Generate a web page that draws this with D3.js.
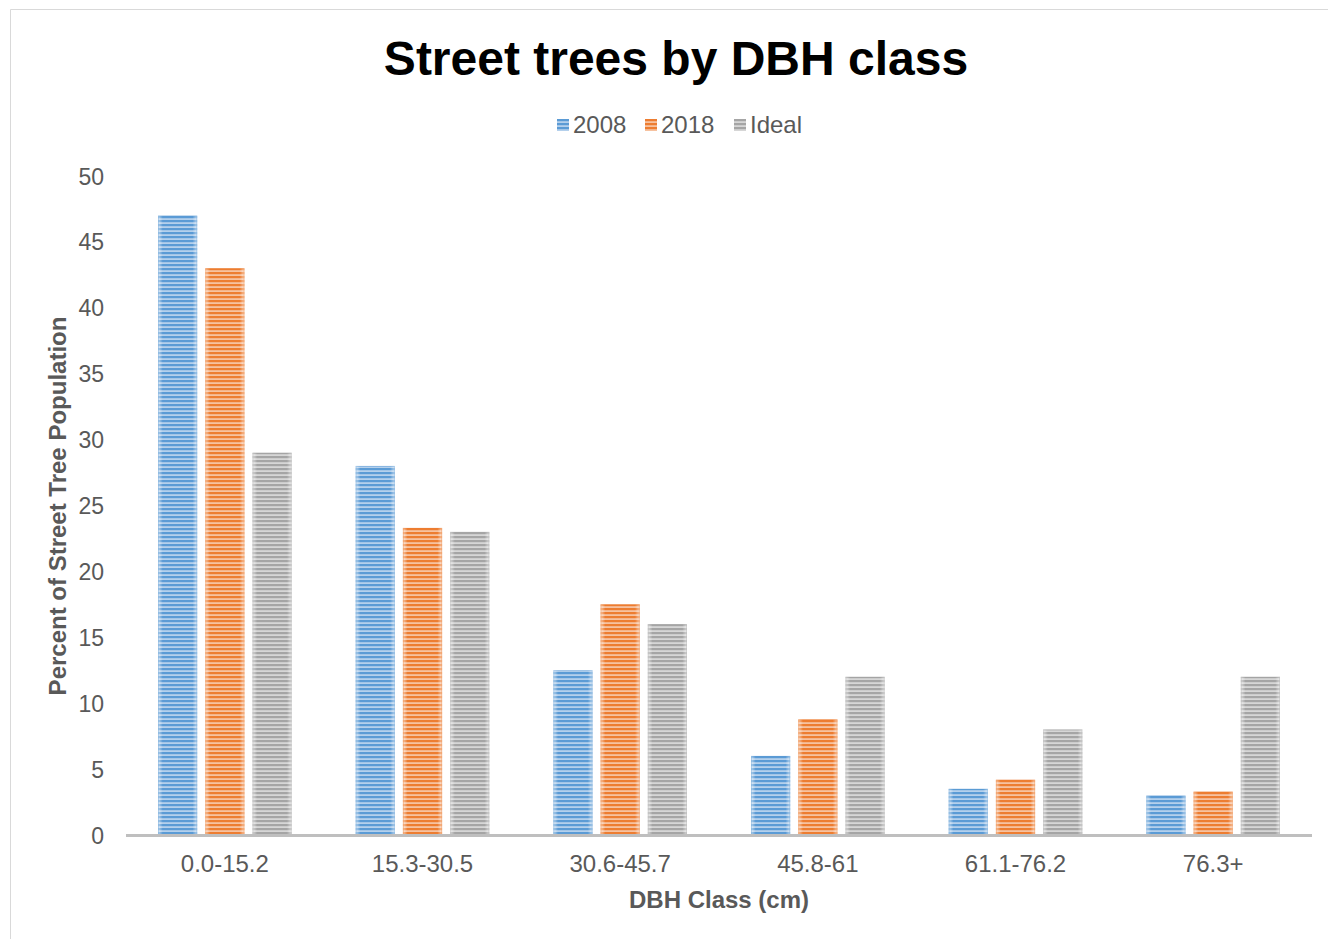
<!DOCTYPE html>
<html>
<head>
<meta charset="utf-8">
<script src="https://cdn.jsdelivr.net/npm/d3@7"></script>
<style>
  html, body { margin: 0; padding: 0; background: #fff; }
  svg { display: block; font-family: "Liberation Sans", Arial, sans-serif; }
</style>
</head>
<body>
<svg id="chart" width="1328" height="939"></svg>
<script>
// Street tree share (%) per DBH class
const categories = ["0.0-15.2", "15.3-30.5", "30.6-45.7", "45.8-61", "61.1-76.2", "76.3+"];
const seriesNames = ["2008", "2018", "Ideal"];
const values2008 = [47, 28, 12.5, 6, 3.5, 3];
const values2018 = [43, 23.3, 17.5, 8.8, 4.2, 3.3];
const valuesIdeal = [29, 23, 16, 12, 8, 12];
const yTicks = [0, 5, 10, 15, 20, 25, 30, 35, 40, 45, 50];

const seriesValues = [values2008, values2018, valuesIdeal];
const colors = { "2008": "#5B9BD5", "2018": "#ED7D31", "Ideal": "#A5A5A5" };
const tints = { "2008": "#B4D0EC", "2018": "#F6C2A0", "Ideal": "#D6D6D6" };

const svg = d3.select("#chart");

// outer chart frame (top and left edges visible)
svg.append("line").attr("x1", 10.5).attr("x2", 1328).attr("y1", 9.5).attr("y2", 9.5)
  .attr("stroke", "#d9d9d9").attr("stroke-width", 1);
svg.append("line").attr("x1", 10.5).attr("x2", 10.5).attr("y1", 9.5).attr("y2", 939)
  .attr("stroke", "#d9d9d9").attr("stroke-width", 1);

// striped fills
const defs = svg.append("defs");
seriesNames.forEach((s, i) => {
  const p = defs.append("pattern").attr("id", "stripe" + i)
    .attr("patternUnits", "userSpaceOnUse").attr("width", 8).attr("height", 4);
  p.append("rect").attr("width", 8).attr("height", 4).attr("fill", tints[s]);
  p.append("rect").attr("y", 0).attr("width", 8).attr("height", 2.2).attr("fill", colors[s]);
  // soft lighter side edges
  const g = defs.append("linearGradient").attr("id", "edge" + i)
    .attr("x1", "0").attr("x2", "1").attr("y1", "0").attr("y2", "0");
  [[0, 0.55], [0.12, 0], [0.88, 0], [1, 0.55]].forEach(([o, a]) => {
    g.append("stop").attr("offset", o).attr("stop-color", "#fff").attr("stop-opacity", a);
  });
});

const margin = { left: 126, right: 1312, top: 176, bottom: 835 };

const x0 = d3.scaleBand().domain(categories).range([margin.left, margin.right]).padding(0);
const x1 = d3.scaleBand().domain(seriesNames).range([32, x0.bandwidth() - 32])
  .paddingInner(8 / 47).paddingOuter(0);
const y = d3.scaleLinear().domain([0, 50]).range([margin.bottom, margin.top]);

// bars
const groups = svg.append("g").selectAll("g").data(categories).join("g")
  .attr("transform", d => `translate(${x0(d)},0)`);

groups.selectAll("g.bar").data((c, ci) => seriesNames.map((s, si) => ({ s, si, v: seriesValues[si][ci] })))
  .join("g").attr("class", "bar")
  .each(function (d) {
    const g = d3.select(this);
    const bx = x1(d.s), bw = x1.bandwidth(), by = y(d.v), bh = y(0) - y(d.v);
    g.append("rect").attr("x", bx).attr("y", by).attr("width", bw).attr("height", bh)
      .attr("fill", `url(#stripe${d.si})`);
    g.append("rect").attr("x", bx).attr("y", by).attr("width", bw).attr("height", bh)
      .attr("fill", `url(#edge${d.si})`);
    g.append("rect").attr("x", bx + 0.5).attr("y", by + 0.5).attr("width", bw - 1).attr("height", Math.max(0, bh - 1))
      .attr("fill", "none").attr("stroke", colors[d.s]).attr("stroke-opacity", 0.35).attr("stroke-width", 1);
  });

// x axis baseline
svg.append("line").attr("x1", margin.left).attr("x2", margin.right)
  .attr("y1", y(0) + 0.5).attr("y2", y(0) + 0.5)
  .attr("stroke", "#bfbfbf").attr("stroke-width", 3);

// y axis labels
const yAxis = d3.axisLeft(y).tickValues(yTicks).tickSize(0).tickPadding(0);
svg.append("g").attr("transform", "translate(104,0)").call(yAxis)
  .call(g => g.select(".domain").remove())
  .call(g => g.selectAll("text").attr("fill", "#595959").attr("font-size", 23)
    .attr("font-family", "'Liberation Sans', Arial, sans-serif").attr("dy", "0.35em"));

// x axis labels
const xAxis = d3.axisBottom(x0).tickSize(0).tickPadding(0);
svg.append("g").attr("transform", `translate(0,${y(0) + 37})`).call(xAxis)
  .call(g => g.select(".domain").remove())
  .call(g => g.selectAll("text").attr("fill", "#595959").attr("font-size", 24)
    .attr("font-family", "'Liberation Sans', Arial, sans-serif").attr("dy", "0"));

// title
svg.append("text").attr("x", 676).attr("y", 75).attr("text-anchor", "middle")
  .attr("font-size", 48).attr("font-weight", "bold").attr("fill", "#000")
  .text("Street trees by DBH class");

// axis titles
svg.append("text").attr("x", 719).attr("y", 908).attr("text-anchor", "middle")
  .attr("font-size", 24).attr("font-weight", "bold").attr("fill", "#595959")
  .text("DBH Class (cm)");
svg.append("text").attr("transform", "translate(66,506) rotate(-90)").attr("text-anchor", "middle")
  .attr("font-size", 24).attr("font-weight", "bold").attr("fill", "#595959")
  .text("Percent of Street Tree Population");

// legend
const legendX = [557, 645, 734];
const legend = svg.append("g").selectAll("g").data(seriesNames).join("g")
  .attr("transform", (d, i) => `translate(${legendX[i]},119)`);
legend.append("rect").attr("width", 12).attr("height", 12)
  .attr("fill", (d, i) => `url(#stripe${i})`);
legend.append("text").attr("x", 16).attr("y", 6).attr("dy", "0.35em")
  .attr("font-size", 24).attr("fill", "#595959").text(d => d);
</script>
</body>
</html>
